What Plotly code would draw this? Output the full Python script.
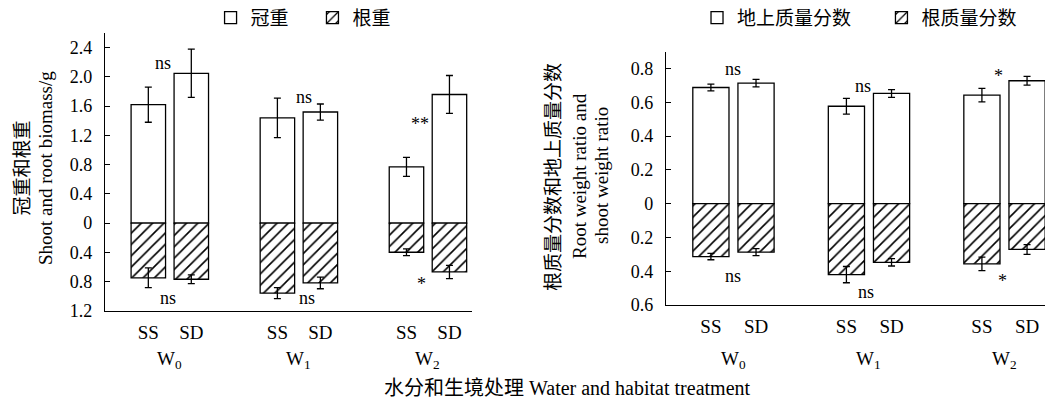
import plotly.graph_objects as go

# ---------------- data ----------------
groups = ["W<sub>0</sub>", "W<sub>1</sub>", "W<sub>2</sub>"]
habitats = ["SS", "SD"]

# left panel: biomass (g)
shoot_ss = [1.62, 1.44, 0.77]
shoot_sd = [2.05, 1.52, 1.76]
shoot_ss_err = [0.24, 0.27, 0.13]
shoot_sd_err = [0.33, 0.11, 0.26]
root_ss = [0.75, 0.96, 0.40]
root_sd = [0.77, 0.82, 0.67]
root_ss_err = [0.135, 0.075, 0.045]
root_sd_err = [0.06, 0.08, 0.09]

# right panel: weight ratios
sr_ss = [0.688, 0.577, 0.643]
sr_sd = [0.714, 0.653, 0.728]
sr_ss_err = [0.020, 0.047, 0.040]
sr_sd_err = [0.022, 0.023, 0.026]
rr_ss = [0.313, 0.420, 0.356]
rr_sd = [0.287, 0.347, 0.271]
rr_ss_err = [0.019, 0.048, 0.040]
rr_sd_err = [0.021, 0.022, 0.029]

# significance labels (upper = shoot, lower = root)
left_sig_top = ["ns", "ns", "**"]
left_sig_bot = ["ns", "ns", "*"]
right_sig_top = ["ns", "ns", "*"]
right_sig_bot = ["ns", "ns", "*"]

left_ticks = [-1.2, -0.8, -0.4, 0, 0.4, 0.8, 1.2, 1.6, 2.0, 2.4]
left_ticktext = ["1.2", "0.8", "0.4", "0", "0.4", "0.8", "1.2", "1.6", "2.0", "2.4"]
right_ticks = [-0.6, -0.4, -0.2, 0, 0.2, 0.4, 0.6, 0.8]
right_ticktext = ["0.6", "0.4", "0.2", "0", "0.2", "0.4", "0.6", "0.8"]

# ---------------- helpers ----------------
OFF = 0.1665
BW = 0.267
SERIF = "Liberation Serif"
CJK = "Liberation Serif, Noto Sans CJK SC"

def F(size, family=SERIF):
    return dict(family=family, size=size, color="black")

def interleave(a, b):
    out = []
    for u, v in zip(a, b):
        out += [u, v]
    return out

xpos = interleave([i - OFF for i in range(3)], [i + OFF for i in range(3)])
xlabels = habitats * 3

fig = go.Figure()

def add_panel(shoot_a, shoot_b, se_a, se_b, root_a, root_b, re_a, re_b,
              xa, ya, names, legends):
    fig.add_trace(go.Bar(
        x=xpos, y=interleave(shoot_a, shoot_b), width=BW, name=names[0],
        marker=dict(color="white", line=dict(color="black", width=1.3)),
        error_y=dict(type="data", array=interleave(se_a, se_b), color="black",
                     thickness=1.3, width=3.5),
        xaxis=xa, yaxis=ya, legend=legends[0], hoverinfo="skip"))
    fig.add_trace(go.Bar(
        x=xpos, y=[-v for v in interleave(root_a, root_b)], width=BW, name=names[1],
        marker=dict(color="white", line=dict(color="black", width=1.3),
                    pattern=dict(shape="/", size=8, solidity=0.2,
                                 fgcolor="black", bgcolor="white")),
        error_y=dict(type="data", array=interleave(re_a, re_b), color="black",
                     thickness=1.3, width=3.5),
        xaxis=xa, yaxis=ya, legend=legends[1], hoverinfo="skip"))

add_panel(shoot_ss, shoot_sd, shoot_ss_err, shoot_sd_err,
          root_ss, root_sd, root_ss_err, root_sd_err,
          "x", "y", ["冠重", "根重"], ["legend", "legend3"])
add_panel(sr_ss, sr_sd, sr_ss_err, sr_sd_err,
          rr_ss, rr_sd, rr_ss_err, rr_sd_err,
          "x2", "y2", ["地上质量分数", "根质量分数"], ["legend2", "legend4"])

axis_common = dict(showline=True, linecolor="black", linewidth=1.3,
                   showgrid=False, zeroline=False, automargin=False)

def leg(x):
    return dict(orientation="h", x=x, y=1.003, xanchor="left", yanchor="top",
                font=F(19, CJK), bgcolor="rgba(0,0,0,0)")

fig.update_layout(
    template="none",
    width=1045, height=404,
    margin=dict(l=0, r=0, t=0, b=0, autoexpand=False),
    paper_bgcolor="white", plot_bgcolor="white",
    barmode="overlay",
    font=F(18),
    xaxis=dict(domain=[0.1005, 0.4514], range=[-0.502, 2.339],
               tickmode="array", tickvals=xpos, ticktext=xlabels,
               ticks="", tickfont=F(19), ticklabelstandoff=4,
               **axis_common),
    yaxis=dict(domain=[0.231, 0.918], range=[-1.2, 2.6],
               tickmode="array", tickvals=left_ticks, ticktext=left_ticktext,
               ticks="inside", ticklen=5, tickwidth=1.3, tickcolor="black",
               ticklabelstandoff=8, tickfont=F(18), **axis_common),
    xaxis2=dict(domain=[0.6373, 1.0], range=[-0.498, 2.299], anchor="y2",
                tickmode="array", tickvals=xpos, ticktext=xlabels,
                ticks="", tickfont=F(19), ticklabelstandoff=4,
                **axis_common),
    yaxis2=dict(domain=[0.245, 0.872], range=[-0.6, 0.9], anchor="x2",
                tickmode="array", tickvals=right_ticks, ticktext=right_ticktext,
                ticks="inside", ticklen=5, tickwidth=1.3, tickcolor="black",
                ticklabelstandoff=8, tickfont=F(18), **axis_common),
    legend=leg(0.2015),
    legend3=leg(0.299),
    legend2=leg(0.667),
    legend4=leg(0.8435),
    showlegend=True,
    hovermode=False,
)

ann = []
# group labels
for i, g in enumerate(groups):
    for xr in ("x", "x2"):
        ann.append(dict(x=i, y=1 - 360 / 404, xref=xr, yref="paper", text=g,
                        xanchor="center", yanchor="middle",
                        showarrow=False, font=F(19)))

# significance marks
left_top_pos = [(-0.05, 2.19), (1.04, 1.73), (1.94, 1.36)]
left_bot_pos = [(-0.014, -1.02), (1.06, -1.03), (1.95, -0.83)]
right_top_pos = [(0.0, 0.797), (0.953, 0.698), (1.958, 0.755)]
right_bot_pos = [(0.0, -0.426), (0.977, -0.525), (1.985, -0.455)]
for labels, pos, xr, yr in [(left_sig_top, left_top_pos, "x", "y"),
                            (left_sig_bot, left_bot_pos, "x", "y"),
                            (right_sig_top, right_top_pos, "x2", "y2"),
                            (right_sig_bot, right_bot_pos, "x2", "y2")]:
    for t, (px, py) in zip(labels, pos):
        ann.append(dict(x=px, y=py, xref=xr, yref=yr, text=t, showarrow=False,
                        xanchor="center", yanchor="middle", font=F(18)))

# axis titles
def title(text, xpx, ypx, fam=SERIF, angle=0, size=19):
    ann.append(dict(x=xpx / 1045, y=1 - ypx / 404, xref="paper", yref="paper",
                    text=text, textangle=angle, showarrow=False,
                    xanchor="center", yanchor="middle", font=F(size, fam)))

title("水分和生境处理 Water and habitat treatment", 567, 388, CJK, 0, 20)
title("冠重和根重", 22.5, 168, CJK, -90)
title("Shoot and root biomass/g", 46, 168, SERIF, -90)
title("根质量分数和地上质量分数", 554, 177, CJK, -90)
title("Root weight ratio and", 580, 176, SERIF, -90)
title("shoot weight ratio", 602, 176, SERIF, -90)

fig.update_layout(annotations=ann)
fig.write_html("out.html", config={"displayModeBar": False},
               post_script="document.body.style.margin='0';document.body.style.overflow='hidden';")
